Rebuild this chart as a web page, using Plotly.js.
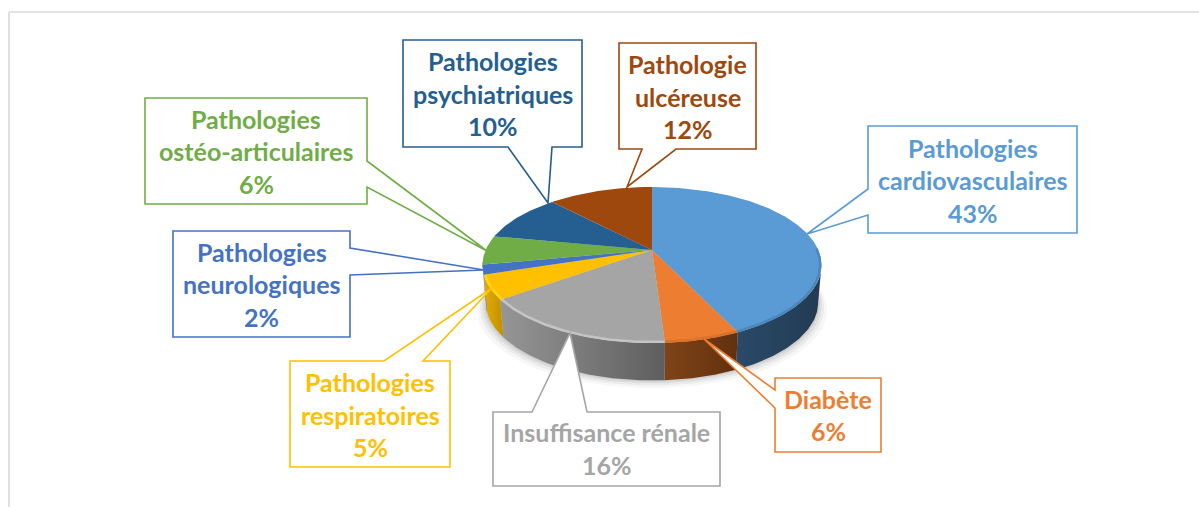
<!DOCTYPE html>
<html><head><meta charset="utf-8">
<script src="https://cdn.plot.ly/plotly-3.0.1.min.js"></script>
<style>html,body{margin:0;padding:0;background:#fff}#c{width:1199px;height:507px}</style></head>
<body><div id="c"></div>
<script>
// --- data ---
const categories = ["Pathologies cardiovasculaires","Diabète","Insuffisance rénale","Pathologies respiratoires","Pathologies neurologiques","Pathologies ostéo-articulaires","Pathologies psychiatriques","Pathologie ulcéreuse"];
const values = [43,6,16,5,2,6,10,12];
const labelLines = [["Pathologies","cardiovasculaires"],["Diabète"],["Insuffisance rénale"],["Pathologies","respiratoires"],["Pathologies","neurologiques"],["Pathologies","ostéo-articulaires"],["Pathologies","psychiatriques"],["Pathologie","ulcéreuse"]];
const colors = ["#5B9BD5","#ED7D31","#A5A5A5","#FFC000","#4472C4","#70AD47","#255E91","#9E480E"];
const rimColors = ["#4A82B6","#D96F28","#C9C9C9","#FFD61F","#4472C4","#70AD47","#255E91","#9E480E"];
const sideLeft = ["#2A4A69","#804318","#969696","#E6AC00","#33558F","#54823A","#1C466D","#763609"];
const sideRight = ["#223B52","#61310E","#5E5E5E","#BF9000","#33558F","#54823A","#1C466D","#763609"];
// callout geometry: [left, top, right, bottom], pointer polyline, line centres
const boxes = [[868,126,1077,233],[775,378,881,452],[493,412,720,486],[290,361,450,467],[173,231,350,337],[145,98,367,204],[403,40,582,147],[619,43,756,149]];
const pointers = [
 {edge:"l",pts:[[868,215],[807,234],[868,189]]},
 {edge:"l",pts:[[775,408],[704,339],[775,390]]},
 {edge:"t",pts:[[532,412],[570,333],[587,412]]},
 {edge:"t",pts:[[384,361],[492,288],[423,361]]},
 {edge:"r",pts:[[350,248],[484,270],[350,275]]},
 {edge:"r",pts:[[367,161],[487,251],[367,187]]},
 {edge:"b",pts:[[552,147],[548,203],[508,147]]},
 {edge:"b",pts:[[676,149],[627,187],[642,149]]}
];
const lineY = [[149,181,214],[400,432],[433,466],[383,416,448],[253,285,318],[120,152,185],[62,95,127],[65,98,130]];

// --- pie projection ---
const cx=652, cy=250, A=166.4, B=75.1, K=0.192, depth=37.5, botScale=0.98;
const total = values.reduce((a,b)=>a+b,0);
function proj(deg,r=1){const t=deg*Math.PI/180,u=r*Math.sin(t),v=-r*Math.cos(t),d=1-K*v;return [cx+A*u/d,cy+B*v/d];}
function projB(deg){const p=proj(deg);return [cx+(p[0]-cx)*botScale,p[1]+depth];}
function arc(f,a,b){const n=Math.max(2,Math.ceil(Math.abs(b-a)));const o=[];for(let i=0;i<=n;i++)o.push(f(a+(b-a)*i/n));return o;}
const traces=[];
function poly(pts,o){traces.push(Object.assign({type:"scatter",mode:"lines",x:pts.map(p=>p[0]),y:pts.map(p=>p[1]),fill:"toself",line:{width:0},hoverinfo:"skip",showlegend:false},o));}
// soft shadow under the pie
[[9,.05],[6,.07],[3.5,.09],[1.5,.11]].forEach(([g,op])=>{
  const pts=arc(d=>{const p=projB(d);return [cx+(p[0]-cx)*(1+g/170),p[1]+g*0.85];},0,360);
  poly(pts,{fillcolor:`rgba(90,90,90,${op})`});
});
const ranges=[];let acc=0;values.forEach(v=>{ranges.push([acc/total*360,(acc+v)/total*360]);acc+=v;});
const visL=101,visR=259;
// side walls
ranges.forEach((r,i)=>{
  const a=Math.max(r[0],visL),b=Math.min(r[1],visR);
  if(b<=a)return;
  const pts=arc(proj,a,b).concat(arc(projB,b,a));pts.push(pts[0]);
  poly(pts,{fillcolor:sideRight[i],fillgradient:{type:"horizontal",colorscale:[[0,sideLeft[i]],[1,sideRight[i]]]}});
});
// top face
ranges.forEach((r,i)=>{
  const pts=[[cx,cy]].concat(arc(proj,r[0],r[1]));pts.push([cx,cy]);
  poly(pts,{fillcolor:colors[i]});
});
// bevel highlights along the front rim
ranges.forEach((r,i)=>{
  const a=Math.max(r[0],visL-12),b=Math.min(r[1],visR+2);
  if(b<=a)return;
  const pts=arc(d=>proj(d,0.992),a,b);
  traces.push({type:"scatter",mode:"lines",x:pts.map(p=>p[0]),y:pts.map(p=>p[1]),line:{width:2.5,color:rimColors[i],shape:"linear"},opacity:.85,hoverinfo:"skip",showlegend:false});
});

// --- callouts ---
function calloutPath(b,p){
  const [l,t,r,bt]=b;let q;
  const P=p.pts;
  if(p.edge==="l") q=[[l,t],[r,t],[r,bt],[l,bt],...P];
  if(p.edge==="t") q=[[l,t],...P,[r,t],[r,bt],[l,bt]];
  if(p.edge==="r") q=[[l,t],[r,t],...P,[r,bt],[l,bt]];
  if(p.edge==="b") q=[[l,t],[r,t],[r,bt],...P,[l,bt]];
  return "M"+q.map(c=>c.join(",")).join("L")+"Z";
}
const shapes=boxes.map((b,i)=>({type:"path",xref:"x",yref:"y",layer:"above",path:calloutPath(b,pointers[i]),fillcolor:"#fff",line:{color:colors[i],width:1.6}}));
shapes.push({type:"line",xref:"x",yref:"y",x0:9,y0:12,x1:1199,y1:12,line:{color:"#D9D9D9",width:1.6},layer:"below"});
shapes.push({type:"line",xref:"x",yref:"y",x0:9,y0:12,x1:9,y1:507,line:{color:"#D9D9D9",width:1.6},layer:"below"});
const annotations=[];
boxes.forEach((b,i)=>{
  const lines=labelLines[i].concat([values[i]+"%"]);
  lines.forEach((t,j)=>annotations.push({x:(b[0]+b[2])/2,y:lineY[i][j]-1,xref:"x",yref:"y",text:t,showarrow:false,xanchor:"center",yanchor:"middle",font:{family:"Lato, sans-serif",size:25,weight:700,color:colors[i]}}));
});

Plotly.newPlot("c",traces,{
  width:1199,height:507,margin:{l:0,r:0,t:0,b:0},paper_bgcolor:"#fff",plot_bgcolor:"#fff",showlegend:false,
  xaxis:{range:[0,1199],visible:false,fixedrange:true},
  yaxis:{range:[507,0],visible:false,fixedrange:true},
  shapes,annotations
},{staticPlot:true,displayModeBar:false});
</script></body></html>
